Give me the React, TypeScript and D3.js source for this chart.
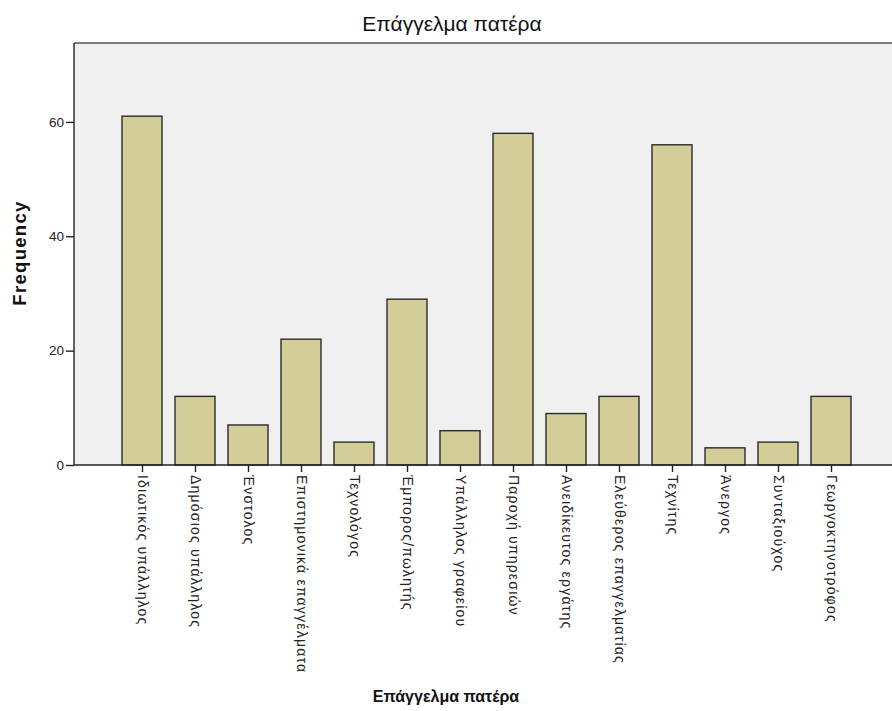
import React, { useRef, useEffect } from 'react';
import * as d3 from 'd3';

// Categories (father's occupation) and their frequencies
const categories: string[] = [
  'Ιδιωτικός υπάλληλος',
  'Δημόσιος υπάλληλος',
  'Ένστολος',
  'Επιστημονικά επαγγέλματα',
  'Τεχνολόγος',
  'Έμπορος/πωλητής',
  'Υπάλληλος γραφείου',
  'Παροχή υπηρεσιών',
  'Ανειδίκευτος εργάτης',
  'Ελεύθερος επαγγελματίας',
  'Τεχνίτης',
  'Άνεργος',
  'Συνταξιούχος',
  'Γεωργοκτηνοτρόφος',
];
const frequencies: number[] = [61, 12, 7, 22, 4, 29, 6, 58, 9, 12, 56, 3, 4, 12];
const yTicks: number[] = [0, 20, 40, 60];

const title = 'Επάγγελμα πατέρα';
const xTitle = 'Επάγγελμα πατέρα';
const yTitle = 'Frequency';

const App: React.FC = () => {
  const ref = useRef<SVGSVGElement>(null);
  const width = 892;
  const height = 711;

  useEffect(() => {
    if (!ref.current) return;
    const svg = d3.select(ref.current);
    svg.selectAll('*').remove();

    const plot = { left: 74, top: 43, right: 900, bottom: 465 };
    const font = '"Liberation Sans", Arial, sans-serif';

    const x = d3.scalePoint<string>().domain(categories).range([142, 831]);
    const barW = x.step() * 0.755;
    const y = d3.scaleLinear().domain([0, 73.8]).range([plot.bottom, plot.top]);

    // plot background
    svg.append('rect')
      .attr('x', plot.left).attr('y', plot.top)
      .attr('width', plot.right - plot.left).attr('height', plot.bottom - plot.top)
      .attr('fill', '#f0f0f0');

    // top frame line
    svg.append('line')
      .attr('x1', plot.left).attr('x2', plot.right)
      .attr('y1', plot.top).attr('y2', plot.top)
      .attr('stroke', '#555').attr('stroke-width', 1.6);

    // bars
    svg.append('g')
      .selectAll('rect')
      .data(frequencies)
      .join('rect')
      .attr('x', (_, i) => (x(categories[i]) as number) - barW / 2)
      .attr('y', d => y(d))
      .attr('width', barW)
      .attr('height', d => plot.bottom - y(d))
      .attr('fill', '#d3ce97')
      .attr('stroke', '#2b2b2b')
      .attr('stroke-width', 1.4);

    // y axis
    const yAxis = d3.axisLeft(y).tickValues(yTicks).tickSize(8).tickPadding(2);
    const gy = svg.append('g').attr('transform', `translate(${plot.left},0)`).call(yAxis);
    gy.select('.domain').remove();
    gy.selectAll('line').attr('stroke', '#222').attr('stroke-width', 1.4);
    gy.selectAll('text').attr('font-family', font).attr('font-size', 13.5).attr('fill', '#222');
    svg.append('line')
      .attr('x1', plot.left).attr('x2', plot.left)
      .attr('y1', plot.top).attr('y2', plot.bottom)
      .attr('stroke', '#222').attr('stroke-width', 1.4);

    // x axis
    const xAxis = d3.axisBottom(x).tickSize(7).tickPadding(3);
    const gx = svg.append('g').attr('transform', `translate(0,${plot.bottom})`).call(xAxis);
    gx.select('.domain').remove();
    gx.selectAll('line').attr('stroke', '#222').attr('stroke-width', 1.4);
    gx.selectAll('text')
      .attr('font-family', font)
      .attr('font-size', 14)
      .attr('fill', '#222')
      .attr('letter-spacing', '1.2px')
      .attr('text-anchor', 'start')
      .attr('dy', '0.35em')
      .attr('transform', 'rotate(90)')
      .attr('x', 10)
      .attr('y', 0);
    svg.append('line')
      .attr('x1', plot.left).attr('x2', plot.right)
      .attr('y1', plot.bottom).attr('y2', plot.bottom)
      .attr('stroke', '#222').attr('stroke-width', 1.4);

    // titles
    svg.append('text')
      .attr('x', 452).attr('y', 31)
      .attr('text-anchor', 'middle')
      .attr('font-family', font).attr('font-size', 21)
      .attr('fill', '#111')
      .text(title);

    svg.append('text')
      .attr('x', 446).attr('y', 702)
      .attr('text-anchor', 'middle')
      .attr('font-family', font).attr('font-size', 16).attr('font-weight', 'bold')
      .attr('fill', '#111')
      .text(xTitle);

    svg.append('text')
      .attr('transform', `translate(26,253) rotate(-90)`)
      .attr('text-anchor', 'middle')
      .attr('font-family', font).attr('font-size', 18.5).attr('font-weight', 'bold')
      .attr('letter-spacing', '1.3px')
      .attr('fill', '#111')
      .text(yTitle);
  }, []);

  return (
    <svg
      ref={ref}
      width={width}
      height={height}
      style={{ position: 'absolute', left: 0, top: 0, background: '#fff' }}
    />
  );
};

export default App;
